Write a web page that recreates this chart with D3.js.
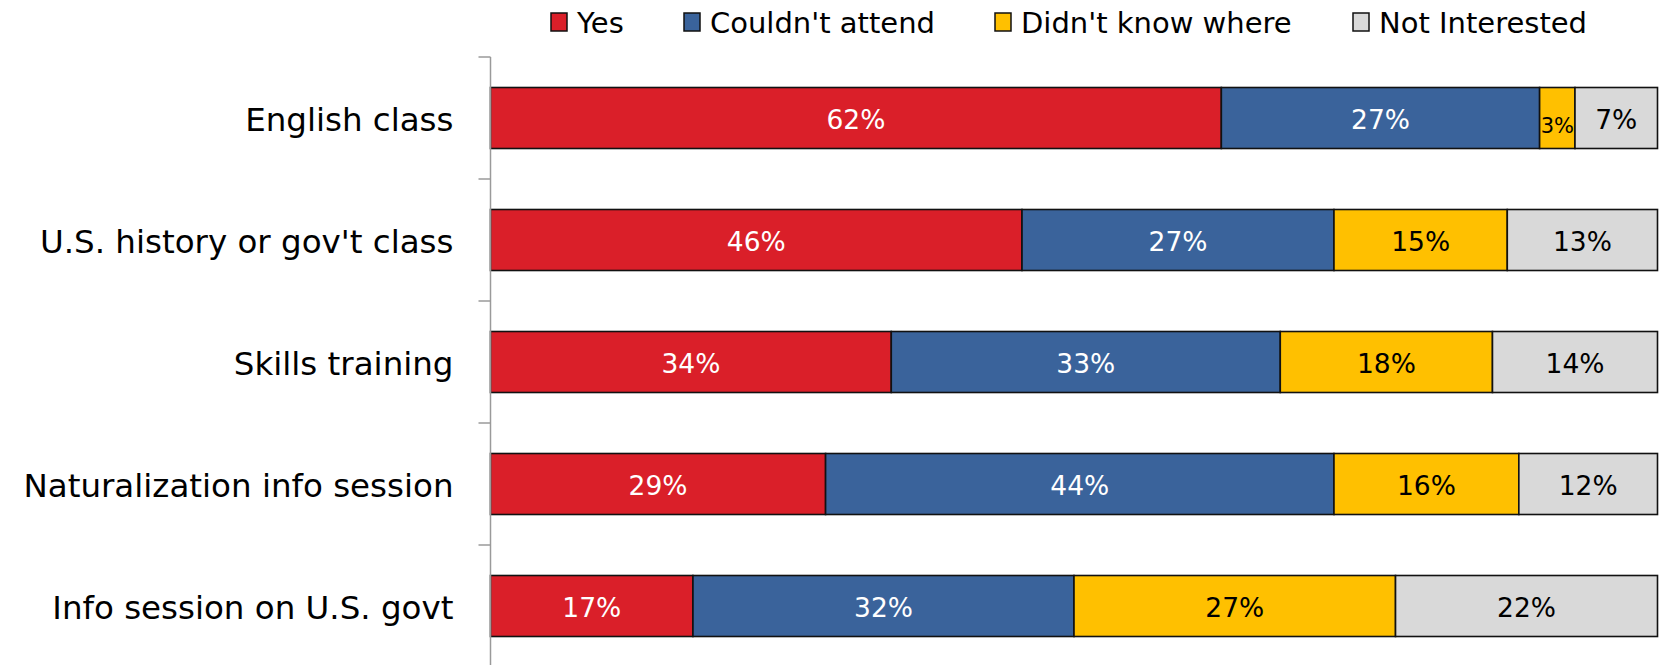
<!DOCTYPE html>
<html>
<head>
<meta charset="utf-8">
<script src="https://cdn.jsdelivr.net/npm/d3@7"></script>
<style>
  html, body { margin: 0; padding: 0; background: #fff; }
  svg { display: block; }
  text { font-family: "DejaVu Sans", sans-serif; }
</style>
</head>
<body>
<svg id="chart" width="1662" height="665"></svg>
<script>
const categories = ["English class", "U.S. history or gov't class", "Skills training", "Naturalization info session", "Info session on U.S. govt"];
const seriesNames = ["Yes", "Couldn't attend", "Didn't know where", "Not Interested"];
const yesVals = [62, 46, 34, 29, 17];
const couldntVals = [27, 27, 33, 44, 32];
const didntKnowVals = [3, 15, 18, 16, 27];
const notInterestedVals = [7, 13, 14, 12, 22];
const colors = ["#DA1F29", "#3A639B", "#FFC000", "#D9D9D9"];
const labelColors = ["#ffffff", "#ffffff", "#000000", "#000000"];

const rows = categories.map((c, i) => ({
  cat: c,
  "Yes": yesVals[i],
  "Couldn't attend": couldntVals[i],
  "Didn't know where": didntKnowVals[i],
  "Not Interested": notInterestedVals[i]
}));

const svg = d3.select("#chart");
const plotLeft = 490.5, plotRight = 1657.5, plotTop = 57, plotBottom = 667;

const x = d3.scaleLinear().domain([0, 1]).range([plotLeft, plotRight]);
const y = d3.scaleBand().domain(categories).range([plotTop, plotBottom]).paddingInner(0.5).paddingOuter(0.25);

const stack = d3.stack().keys(seriesNames).offset(d3.stackOffsetExpand);
const series = stack(rows);

const g = svg.append("g");
series.forEach((s, si) => {
  const sg = g.append("g");
  sg.selectAll("rect").data(s).enter().append("rect")
    .attr("x", d => x(d[0]))
    .attr("y", d => y(d.data.cat))
    .attr("width", d => x(d[1]) - x(d[0]))
    .attr("height", y.bandwidth())
    .attr("fill", colors[si])
    .attr("stroke", "#111")
    .attr("stroke-width", 1.6);
});
series.forEach((s, si) => {
  g.append("g").selectAll("text").data(s).enter().append("text")
    .attr("x", d => (x(d[0]) + x(d[1])) / 2)
    .attr("y", d => {
      const v = d.data[seriesNames[si]];
      return y(d.data.cat) + y.bandwidth() / 2 + (v < 5 ? 15 : 10.5);
    })
    .attr("text-anchor", "middle")
    .attr("fill", labelColors[si])
    .style("font-size", d => (d.data[seriesNames[si]] < 5 ? "21px" : "26.5px"))
    .text(d => d.data[seriesNames[si]] + "%");
});

// y axis
const step = y.step();
const axisG = svg.append("g");
axisG.append("line")
  .attr("x1", plotLeft).attr("x2", plotLeft)
  .attr("y1", plotTop).attr("y2", plotBottom)
  .attr("stroke", "#9a9a9a").attr("stroke-width", 1.5);
const tickYs = categories.map(c => y(c) - y.paddingInner() * step / 2).concat([plotBottom]);
axisG.selectAll("line.tick").data(tickYs).enter().append("line")
  .attr("class", "tick")
  .attr("x1", plotLeft - 12).attr("x2", plotLeft)
  .attr("y1", d => d).attr("y2", d => d)
  .attr("stroke", "#9a9a9a").attr("stroke-width", 1.5);

axisG.selectAll("text.cat").data(categories).enter().append("text")
  .attr("class", "cat")
  .attr("x", plotLeft - 37)
  .attr("y", d => y(d) + y.bandwidth() / 2 + 12.5)
  .attr("text-anchor", "end")
  .attr("fill", "#000")
  .style("font-size", "32.5px")
  .text(d => d);

// legend
const legendX = [551, 684, 995, 1353];
const lg = svg.append("g");
seriesNames.forEach((n, i) => {
  lg.append("rect")
    .attr("x", legendX[i]).attr("y", 13)
    .attr("width", 16).attr("height", 18)
    .attr("fill", colors[i]).attr("stroke", "#111").attr("stroke-width", 1.5);
  lg.append("text")
    .attr("x", legendX[i] + 26).attr("y", 33)
    .attr("fill", "#000")
    .style("font-size", "29px")
    .text(n);
});
</script>
</body>
</html>
